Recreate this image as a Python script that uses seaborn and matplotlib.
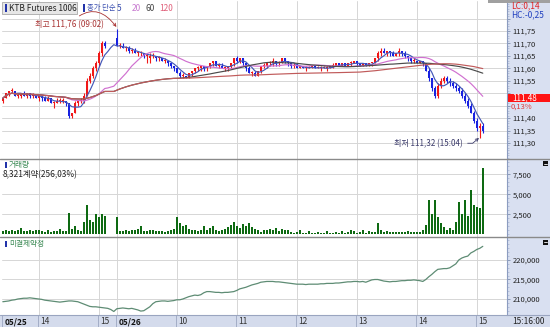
import numpy as np
import pandas as pd
import matplotlib
matplotlib.use("Agg")
import matplotlib.pyplot as plt
import matplotlib.transforms as mtransforms
from matplotlib.patches import Rectangle
from matplotlib.lines import Line2D
import seaborn as sns

# ---------------- data ----------------
# 3-minute bars, 05/25 13:24 .. 05/26 15:06 ; prices in hundredths above 111.00
BASE = 111.00
open_t = [47,48,50,51,51,49,49,50,49,50, 49,49,48,49,48,47,48,46,46,47,
          47,47,46,41,42,46,47,47,49,55, 57,60,62,66,70,None,None,None,72,69,
          69,68,68,67,67,66,66,66,65,64, 65,65,64,64,63,63,62,61,60,58,
          57,57,56,58,59,60,60,61,60,61, 62,63,61,61,60,60,61,62,64,63,
          64,62,60,58,58,57,59,61,61,62, 62,63,62,62,64,63,62,61,61,60,
          61,60,60,60,61,60,60,60,60,60, 61,61,62,61,62,61,62,62,63,62,
          61,62,61,62,62,64,66,67,66,67, 66,65,66,67,66,65,64,63,63,62,
          63,62,59,56,52,49,53,55,56,55, 54,53,52,51,49,47,45,42,39,36,
          37]
high_t = [48,50,51,52,51,50,50,51,50,50, 50,49,49,49,49,49,48,47,48,48,
          48,47,46,42,47,47,48,50,56,58, 61,63,67,71,71,None,None,None,76,70,
          70,69,69,68,68,67,67,66,66,66, 66,65,65,64,64,63,62,61,60,59,
          58,57,58,59,60,61,61,61,61,62, 63,63,62,62,61,61,62,64,65,64,
          64,62,61,59,59,59,61,62,62,63, 64,63,63,64,64,63,62,62,62,61,
          61,61,61,61,61,61,61,61,61,61, 62,62,62,62,62,62,63,63,63,62,
          62,62,62,62,64,67,68,68,67,67, 67,66,68,67,67,65,64,64,63,63,
          63,62,60,56,53,54,56,57,57,56, 55,54,53,52,50,48,46,43,40,38,
          38]
low_t = [46,48,49,50,49,48,48,49,48,48, 48,48,47,47,47,47,46,44,46,46,
         46,45,40,40,42,45,46,46,49,54, 56,59,61,65,68,None,None,None,69,68,
         68,67,66,66,66,65,65,64,62,62, 64,63,63,63,62,61,60,59,58,56,
         56,56,56,57,58,59,59,59,59,60, 61,61,60,60,59,59,60,61,62,62,
         61,59,58,57,57,57,58,60,60,61, 61,61,61,62,62,61,60,60,60,60,
         60,59,60,60,60,60,59,60,59,60, 60,61,61,61,61,61,61,62,61,61,
         61,61,61,61,62,63,65,66,65,65, 65,65,65,65,64,63,62,62,62,62,
         61,59,55,51,48,48,52,54,54,53, 52,51,50,48,46,44,42,38,35,32,
         34]
close_t = [48,50,51,51,49,49,50,49,50,49, 49,48,49,48,47,48,46,46,47,47,
           47,46,41,42,46,47,47,49,55,57, 60,62,66,70,69,None,None,None,69,69,
           68,68,67,67,66,66,66,65,65,65, 65,64,64,63,63,62,61,60,58,57,
           57,56,58,59,60,60,61,60,61,62, 63,61,61,60,60,61,62,64,63,64,
           62,60,58,58,57,59,61,61,62,62, 63,62,62,64,63,62,61,61,60,61,
           60,60,60,61,60,60,60,60,60,61, 61,62,61,62,61,62,62,63,62,61,
           62,61,62,62,64,66,67,66,67,66, 65,66,67,66,65,64,63,63,62,63,
           62,59,56,52,49,53,55,56,55,54, 53,52,51,49,47,45,42,39,36,37,
           35]
volume = [450,500,400,550,450,600,750,450,400,500, 450,500,600,450,350,500,300,450,400,700,
          450,400,2700,700,1100,600,450,1580,3670,1800, 1580,2600,2200,2600,2300,0,0,0,2200,450,
          400,500,450,550,600,650,1000,450,400,500, 600,450,400,450,350,400,500,700,2200,1400,
          1000,1200,700,500,600,400,500,1000,600,800, 1100,600,400,500,700,900,1200,1500,1000,800,
          1300,1100,1400,900,700,500,300,600,500,700, 600,800,400,700,500,600,300,200,300,500,
          200,200,400,200,150,300,150,200,400,200, 150,300,200,450,200,300,500,400,200,300,
          500,200,400,300,250,1460,600,350,400,300, 250,300,350,250,300,400,300,250,300,350,
          500,1170,4300,2600,4300,2200,1375,960,540,750, 540,1580,4080,2600,4300,2300,5540,3670,3460,3250,
          8321]
open_interest = [209300,209400,209500,209700,209800,210000,210100,210200,210200,210300,
                 210200,210100,210000,209900,209700,209600,209500,209400,209300,209200,
                 209300,209400,209500,209500,209400,209300,209000,208700,208400,208100,
                 208000,208000,207900,207800,207700,207600,207300,206800,207500,207600,
                 207700,207600,207500,207600,207400,207200,206900,207000,207500,208000,
                 208800,209300,209400,209500,209500,209400,209500,209600,209800,209800,
                 210000,210300,210600,210800,211000,210900,211100,211600,211900,211900,
                 211800,211700,211700,211600,211700,211700,211800,211900,212200,212600,
                 212800,213000,213300,213600,213800,214000,214300,214400,214500,214500,
                 214500,214400,214400,214300,214200,214100,214000,213900,213800,213800,
                 213800,213700,213800,213800,213800,213800,213900,213900,214000,214000,
                 214000,214100,214100,214200,214300,214400,214400,214500,214500,214400,
                 214500,214300,214600,214900,215000,215000,214800,214600,214500,214400,
                 214500,214500,214600,214700,214700,214800,214800,214900,214800,214700,
                 214500,215000,215700,216300,217000,217600,217700,217800,217800,218000,
                 218500,219000,220000,220500,220800,221000,221800,222200,222700,223000,
                 223500]
hour_pos = [0, 12, 32, 38, 58, 78, 98, 118, 138, 158]
hour_labels = ["05/25", "14", "15", "05/26", "10", "11", "12", "13", "14", "15"]
price_ticks = [111.30, 111.35, 111.40, 111.45, 111.50, 111.55, 111.60, 111.65, 111.70, 111.75, 111.80]
vol_ticks = [2500, 5000, 7500]
oi_ticks = [210000, 215000, 220000]
ma_periods = [5, 20, 60, 120]
ma_colors = ["#4458B8", "#D070D0", "#4A4A4A", "#C05A5A"]
legend_colors = ["#3A4FB0", "#C77AD0", "#444444", "#E0607A"]

# ---------------- style ----------------
sns.set_theme(style="white")
plt.rcParams["font.family"] = ["Noto Sans CJK KR", "DejaVu Sans"]
plt.rcParams["axes.unicode_minus"] = False

W, H = 550, 327
fig = plt.figure(figsize=(W / 100, H / 100), dpi=100)
fig.patch.set_facecolor("white")


def rect(x0, y0, x1, y1):
    return [x0 / W, 1 - y1 / H, (x1 - x0) / W, (y1 - y0) / H]


def fx(px):
    return px / W


def fy(py):
    return 1 - py / H


def blank(ax):
    ax.set_xticks([])
    ax.set_yticks([])
    for s in ax.spines.values():
        s.set_visible(False)


PANEL = "#D9E0F1"
bg = fig.add_axes(rect(507, 0, 550, 327), zorder=-5)
bg.set_facecolor(PANEL)
blank(bg)
strip = fig.add_axes(rect(0, 315, 550, 327), zorder=-4)
strip.set_facecolor("#D4DBEC")
blank(strip)

ax1 = fig.add_axes(rect(2, 1, 507, 159))
ax2 = fig.add_axes(rect(2, 159, 507, 237))
ax3 = fig.add_axes(rect(2, 237, 507, 315))

idx = np.arange(len(close_t))
o = BASE + np.array(open_t, dtype=float) / 100
h = BASE + np.array(high_t, dtype=float) / 100
l = BASE + np.array(low_t, dtype=float) / 100
c = BASE + np.array(close_t, dtype=float) / 100

GRID = "#D6D6D6"
for ax in (ax1, ax2, ax3):
    ax.set_facecolor("white")
    ax.set_xlim(-0.27, 168.07)
    ax.yaxis.tick_right()
    ax.tick_params(axis="y", which="major", direction="out", length=2.5, width=0.6,
                   color="#7F8FB0", labelsize=5.5, labelcolor="#222222", pad=1.5, right=True)
    ax.tick_params(axis="y", which="minor", direction="out", length=1.2, width=0.4,
                   color="#9AA8C8", right=True)
    ax.tick_params(axis="x", bottom=False, labelbottom=False)
    for s in ["top", "left", "bottom"]:
        ax.spines[s].set_visible(False)
    ax.spines["right"].set_color("#8C9CC0")
    ax.spines["right"].set_linewidth(0.8)
    for p in hour_pos[1:]:
        ax.axvline(p, color=GRID, lw=0.7, zorder=0)

# ---- price panel ----
ax1.set_ylim(111.2357, 111.8705)
for t in price_ticks:
    ax1.axhline(t, color=GRID, lw=0.7, zorder=0)
ax1.set_yticks(price_ticks)
ax1.set_yticklabels(["" if t in (111.45, 111.50, 111.80) else f"{t:.2f}".replace(".", ",")
                     for t in price_ticks])
ax1.set_yticks(np.arange(111.24, 111.87, 0.01), minor=True)

up = c >= o
col = np.where(up, "#F01818", "#1822E0")
ax1.vlines(idx, l, h, colors=col, lw=0.8, zorder=3)
body_lo = np.fmin(o, c)
body_h = np.fmax(np.abs(c - o), 0.004)
ax1.bar(idx, body_h, bottom=body_lo, width=0.72, color=col, linewidth=0, zorder=4)

close_s = pd.Series(c)
for n, mc in zip(ma_periods, ma_colors):
    ma = close_s.rolling(n, min_periods=1).mean()
    sns.lineplot(x=idx, y=ma.values, ax=ax1, color=mc, lw=0.85, zorder=5, legend=False)
ax1.set_xlabel("")
ax1.set_ylabel("")

ax1.annotate("최고 111,76 (09:02)", xy=(38, 111.764), xytext=(33.6, 111.776), textcoords="data",
             ha="right", va="center", fontsize=5.8, color="#A83232", zorder=8,
             arrowprops=dict(arrowstyle="->", color="#A83232", lw=0.6, mutation_scale=5,
                             connectionstyle="arc3,rad=-0.6", shrinkA=1, shrinkB=0.5))
ax1.annotate("최저 111,32 (15:04)", xy=(158.9, 111.322), xytext=(153.4, 111.299), textcoords="data",
             ha="right", va="center", fontsize=5.8, color="#3A3A6A", zorder=8,
             arrowprops=dict(arrowstyle="->", color="#3A3A6A", lw=0.6, mutation_scale=5,
                             connectionstyle="angle,angleA=0,angleB=40,rad=0", shrinkA=1, shrinkB=0.5))

# ---- volume panel ----
ax2.set_ylim(-337, 9412)
for t in vol_ticks:
    ax2.axhline(t, color=GRID, lw=0.7, zorder=0)
ax2.bar(idx, volume, width=0.75, color="#0E6A12", linewidth=0, zorder=3)
ax2.set_yticks(vol_ticks)
ax2.set_yticklabels([f"{v:,}" for v in vol_ticks])
ax2.set_yticks(np.arange(0, 9500, 500), minor=True)

# ---- open interest panel ----
ax3.set_ylim(205897, 225897)
for t in oi_ticks:
    ax3.axhline(t, color=GRID, lw=0.7, zorder=0)
sns.lineplot(x=idx, y=np.array(open_interest, dtype=float), ax=ax3, color="#5E8C74", lw=0.9,
             zorder=3, legend=False)
ax3.set_xlabel("")
ax3.set_ylabel("")
ax3.set_yticks(oi_ticks)
ax3.set_yticklabels([f"{v:,}" for v in oi_ticks])
ax3.set_yticks(np.arange(206000, 226000, 1000), minor=True)

# ---- x label strip ----
trans = mtransforms.blended_transform_factory(ax3.transData, strip.transAxes)
for p, lab in zip(hour_pos, hour_labels):
    bold = "/" in lab
    strip.text(p + 0.45, 0.45, lab, transform=trans, fontsize=6, va="center", ha="left",
               color="#111111" if bold else "#333333", fontweight="bold" if bold else "normal",
               clip_on=False)
    strip.plot([p - 0.25, p - 0.25], [0, 1], transform=trans, color="#A3ADC6", lw=0.7, clip_on=False)
fig.text(fx(512), fy(321), "15:16:00", fontsize=6, va="center", ha="left", color="#222222")

# ---- separators ----
for py in (159, 237):
    fig.add_artist(Line2D([0, 1], [fy(py), fy(py)], color="#8A8A8A", lw=1.0, zorder=6))
fig.add_artist(Line2D([0, 1], [fy(315), fy(315)], color="#9AA5C0", lw=0.8, zorder=6))


def frect(x0, y0, x1, y1, **kw):
    fig.add_artist(Rectangle((fx(x0), fy(y1)), (x1 - x0) / W, (y1 - y0) / H,
                             transform=fig.transFigure, **kw))


# ---- top legend ----
frect(2, 2, 77, 14, facecolor="#E6E6E6", edgecolor="#A8A8A8", lw=0.6, zorder=7)
frect(4.5, 4.5, 6.5, 11.5, facecolor="#2233AA", edgecolor="none", zorder=8)
fig.text(fx(9), fy(8.3), "KTB Futures 1006", fontsize=6, va="center", ha="left", color="#222222", zorder=8)
frect(83, 4.5, 85, 11.5, facecolor="#2233AA", edgecolor="none", zorder=8)
fig.text(fx(87), fy(8.3), "종가 단순", fontsize=5.3, va="center", ha="left", color=legend_colors[0], zorder=8)
for xp, n, lc in zip([117, 132, 146, 159], ma_periods, legend_colors):
    fig.text(fx(xp), fy(8.3), str(n), fontsize=6, va="center", ha="left", color=lc, zorder=8)

# ---- panel titles ----
frect(4.5, 161.5, 6.5, 168, facecolor="#2233AA", edgecolor="none", zorder=8)
fig.text(fx(9), fy(164.5), "거래량", fontsize=5.5, va="center", ha="left", color="#3C8A55", zorder=8)
fig.text(fx(3), fy(174.5), "8,321계약(256,03%)", fontsize=6, va="center", ha="left", color="#222222", zorder=8)
frect(4.5, 240.5, 6.5, 247, facecolor="#2233AA", edgecolor="none", zorder=8)
fig.text(fx(9), fy(243.8), "미결제약정", fontsize=5.5, va="center", ha="left", color="#3C8A55", zorder=8)

# ---- right panel extras ----
frect(488, 0, 550, 2.5, facecolor="#A0A0A0", edgecolor="none", zorder=8)
fig.text(fx(511), fy(6), "LC:0,14", fontsize=6, va="center", ha="left", color="#E02020", zorder=8)
fig.text(fx(511), fy(14.5), "HC:-0,25", fontsize=6, va="center", ha="left", color="#2040C0", zorder=8)
frect(508, 94, 550, 102, facecolor="#FF1414", edgecolor="none", zorder=8)
fig.text(fx(512), fy(98), "111,48", fontsize=5.8, va="center", ha="left", color="white", zorder=9)
fig.text(fx(511), fy(106.5), "0,13%", fontsize=5.5, va="center", ha="left", color="#E03A3A", zorder=9)
for py in (161.5, 239.5):
    frect(543, py, 548, py + 5, facecolor="#111111", edgecolor="none", zorder=9)
    fig.add_artist(Line2D([fx(544.2), fx(546.8)], [fy(py + 2.5)] * 2, color="white", lw=0.6, zorder=10))

fig.savefig("out.png", dpi=100, facecolor="white")
